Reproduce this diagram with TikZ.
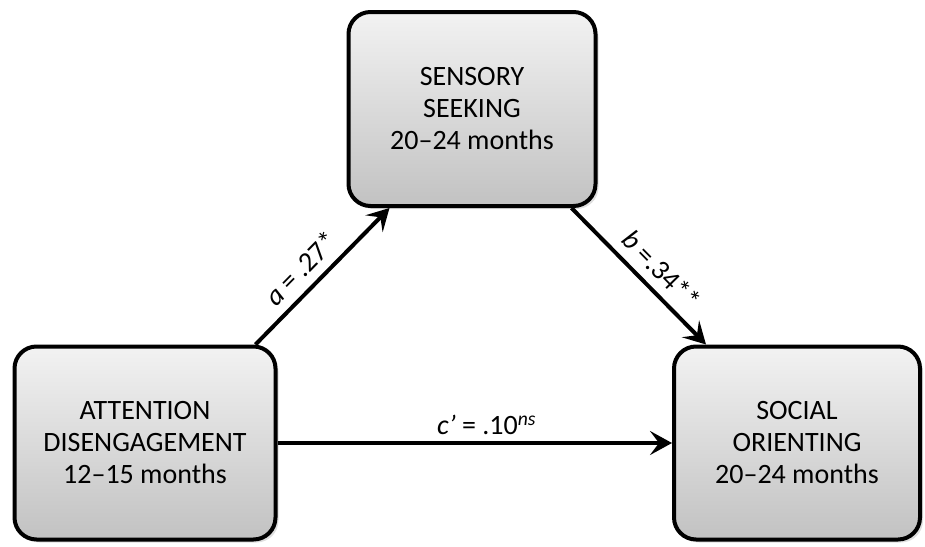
\documentclass[tikz,border=0pt]{standalone}
\usepackage{fontspec}
\setmainfont{Carlito}
\usetikzlibrary{arrows.meta}
\usetikzlibrary{positioning}
\usetikzlibrary{shadows}

\tikzset{
  varbox/.style={draw, line width=4pt, rounded corners=22pt,
    top color=gray!10, bottom color=gray!48, align=center,
    font=\fontsize{28}{32}\selectfont,
    drop shadow={opacity=0.25, shadow xshift=3pt, shadow yshift=-3pt}},
  effect/.style={line width=4pt, -{Stealth[length=22pt, width=24pt, inset=9pt]}},
  coef/.style={font=\fontsize{28}{32}\selectfont, inner sep=3pt}
}

\begin{document}
\begin{tikzpicture}[x=1pt, y=-1pt]

      \useasboundingbox (0,0) rectangle (925,546);

      \node[varbox, minimum width=247pt, minimum height=194pt] (seek) at (472,109)
        {SENSORY\\SEEKING\\20--24 months};
      \node[varbox, minimum width=261pt, minimum height=193pt] (attn) at (145,443)
        {ATTENTION\\DISENGAGEMENT\\12--15 months};
      \node[varbox, minimum width=246pt, minimum height=193pt] (orient) at (797,443)
        {SOCIAL\\ORIENTING\\20--24 months};

      \draw[effect] ([xshift=-22pt]attn.north east) -- ([xshift=43pt]seek.south west)
        node[coef, pos=0.45, sloped, above=6pt] {\textit{a} = .27*};
      \draw[effect] ([xshift=-26pt]seek.south east) -- ([xshift=34pt]orient.north west)
        node[coef, pos=0.56, sloped, above=6pt] {\textit{b} =.34**};
      \draw[effect] (attn.east) -- (orient.west)
        node[coef, pos=0.53, above=3pt] {\textit{c’} = .10\textsuperscript{\textit{ns}}};

    \end{tikzpicture}
\end{document}
